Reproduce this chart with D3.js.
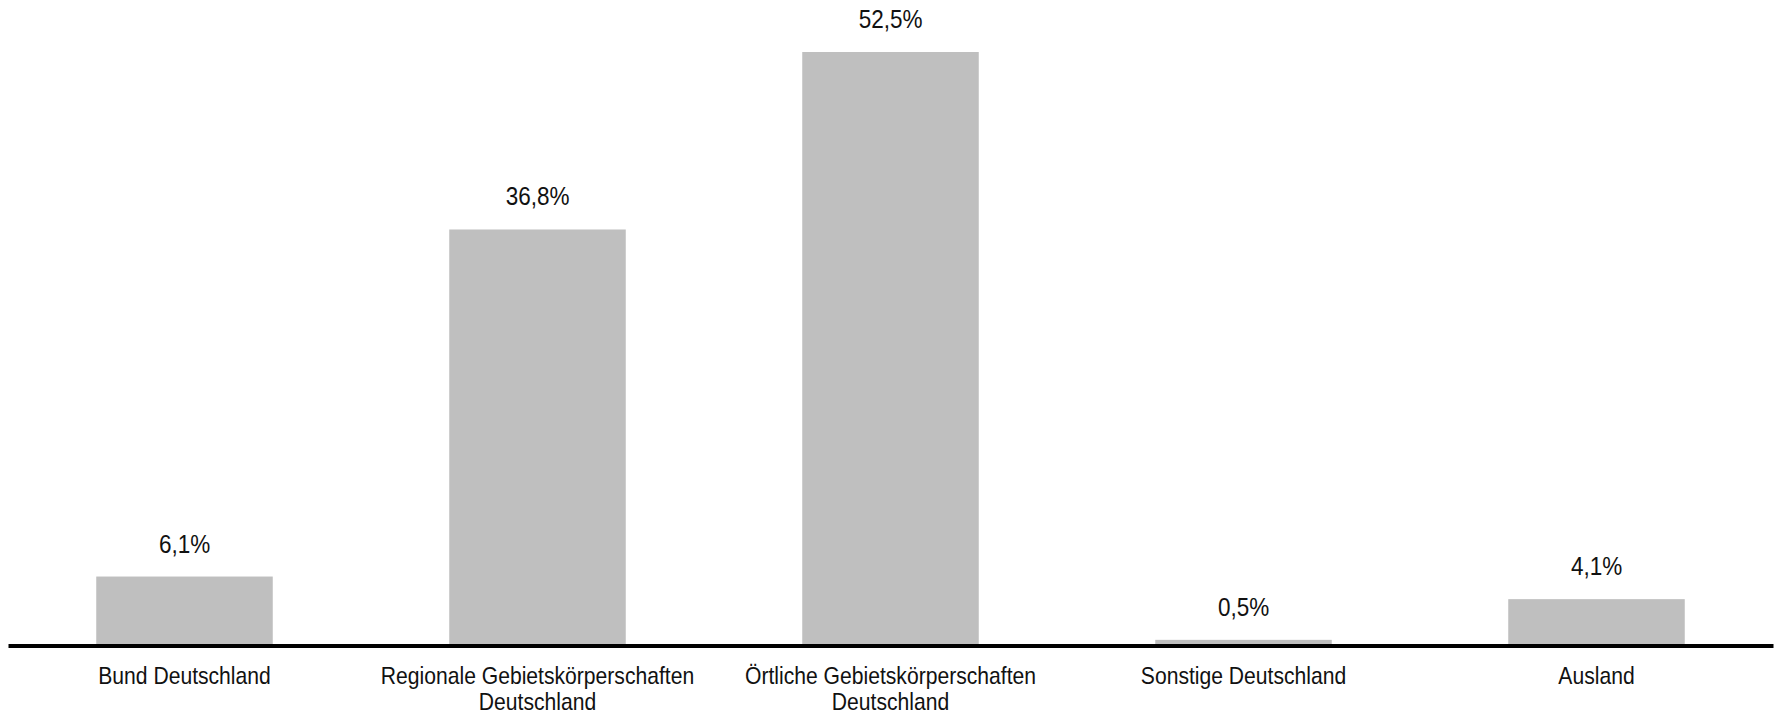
<!DOCTYPE html>
<html>
<head>
<meta charset="utf-8">
<script src="https://cdn.jsdelivr.net/npm/d3@7"></script>
<style>
  body { margin: 0; background: #fff; }
  svg text { font-family: "Liberation Sans", Arial, sans-serif; fill: #111; }
</style>
</head>
<body>
<svg id="chart"></svg>
<script>
const categories = [
  "Bund Deutschland",
  "Regionale Gebietskörperschaften Deutschland",
  "Örtliche Gebietskörperschaften Deutschland",
  "Sonstige Deutschland",
  "Ausland"
];
const shares = [6.1, 36.8, 52.5, 0.5, 4.1];
const shareLabels = ["6,1%", "36,8%", "52,5%", "0,5%", "4,1%"];

const width = 1781, height = 715;
const margin = { top: 52, right: 8, bottom: 69.5, left: 8 };
const baseline = height - margin.bottom;
// the original font is a narrow face, squeeze Liberation Sans to match
const squeezeLabel = 0.88;
const squeezeValue = 0.9;

const svg = d3.select("#chart").attr("width", width).attr("height", height);

const x = d3.scaleBand()
  .domain(categories)
  .range([margin.left, width - margin.right])
  .paddingInner(0.5)
  .paddingOuter(0.25);

const y = d3.scaleLinear()
  .domain([0, d3.max(shares)])
  .range([baseline, margin.top]);

const data = categories.map((c, i) => ({ cat: c, value: shares[i], label: shareLabels[i] }));

svg.append("g")
  .selectAll("rect")
  .data(data)
  .join("rect")
  .attr("x", d => x(d.cat))
  .attr("y", d => y(d.value))
  .attr("width", x.bandwidth())
  .attr("height", d => baseline - y(d.value))
  .attr("fill", "#bfbfbf");

svg.append("g")
  .selectAll("g")
  .data(data)
  .join("g")
  .attr("transform", d => `translate(${x(d.cat) + x.bandwidth() / 2}, ${y(d.value) - 24})`)
  .append("text")
  .attr("transform", `scale(${squeezeValue}, 1)`)
  .attr("text-anchor", "middle")
  .attr("font-size", 25)
  .text(d => d.label);

const xAxis = svg.append("g")
  .attr("transform", `translate(0, ${baseline})`)
  .call(d3.axisBottom(x).tickSize(0).tickSizeOuter(0));

xAxis.select(".domain")
  .attr("stroke", "#000")
  .attr("stroke-width", 4);

xAxis.selectAll(".tick text")
  .attr("font-family", null)
  .attr("font-size", 24)
  .attr("fill", null)
  .attr("transform", `scale(${squeezeLabel}, 1)`)
  .call(wrap, (x.step() - 12) / squeezeLabel);

function wrap(sel, maxWidth) {
  sel.each(function () {
    const text = d3.select(this);
    const words = text.text().split(" ");
    text.text(null).attr("y", 39).attr("dy", null);
    let line = [];
    let tspan = text.append("tspan").attr("x", 0).attr("dy", 0);
    words.forEach(w => {
      line.push(w);
      tspan.text(line.join(" "));
      if (tspan.node().getComputedTextLength() > maxWidth && line.length > 1) {
        line.pop();
        tspan.text(line.join(" "));
        line = [w];
        tspan = text.append("tspan").attr("x", 0).attr("dy", 26).text(w);
      }
    });
  });
}
</script>
</body>
</html>
